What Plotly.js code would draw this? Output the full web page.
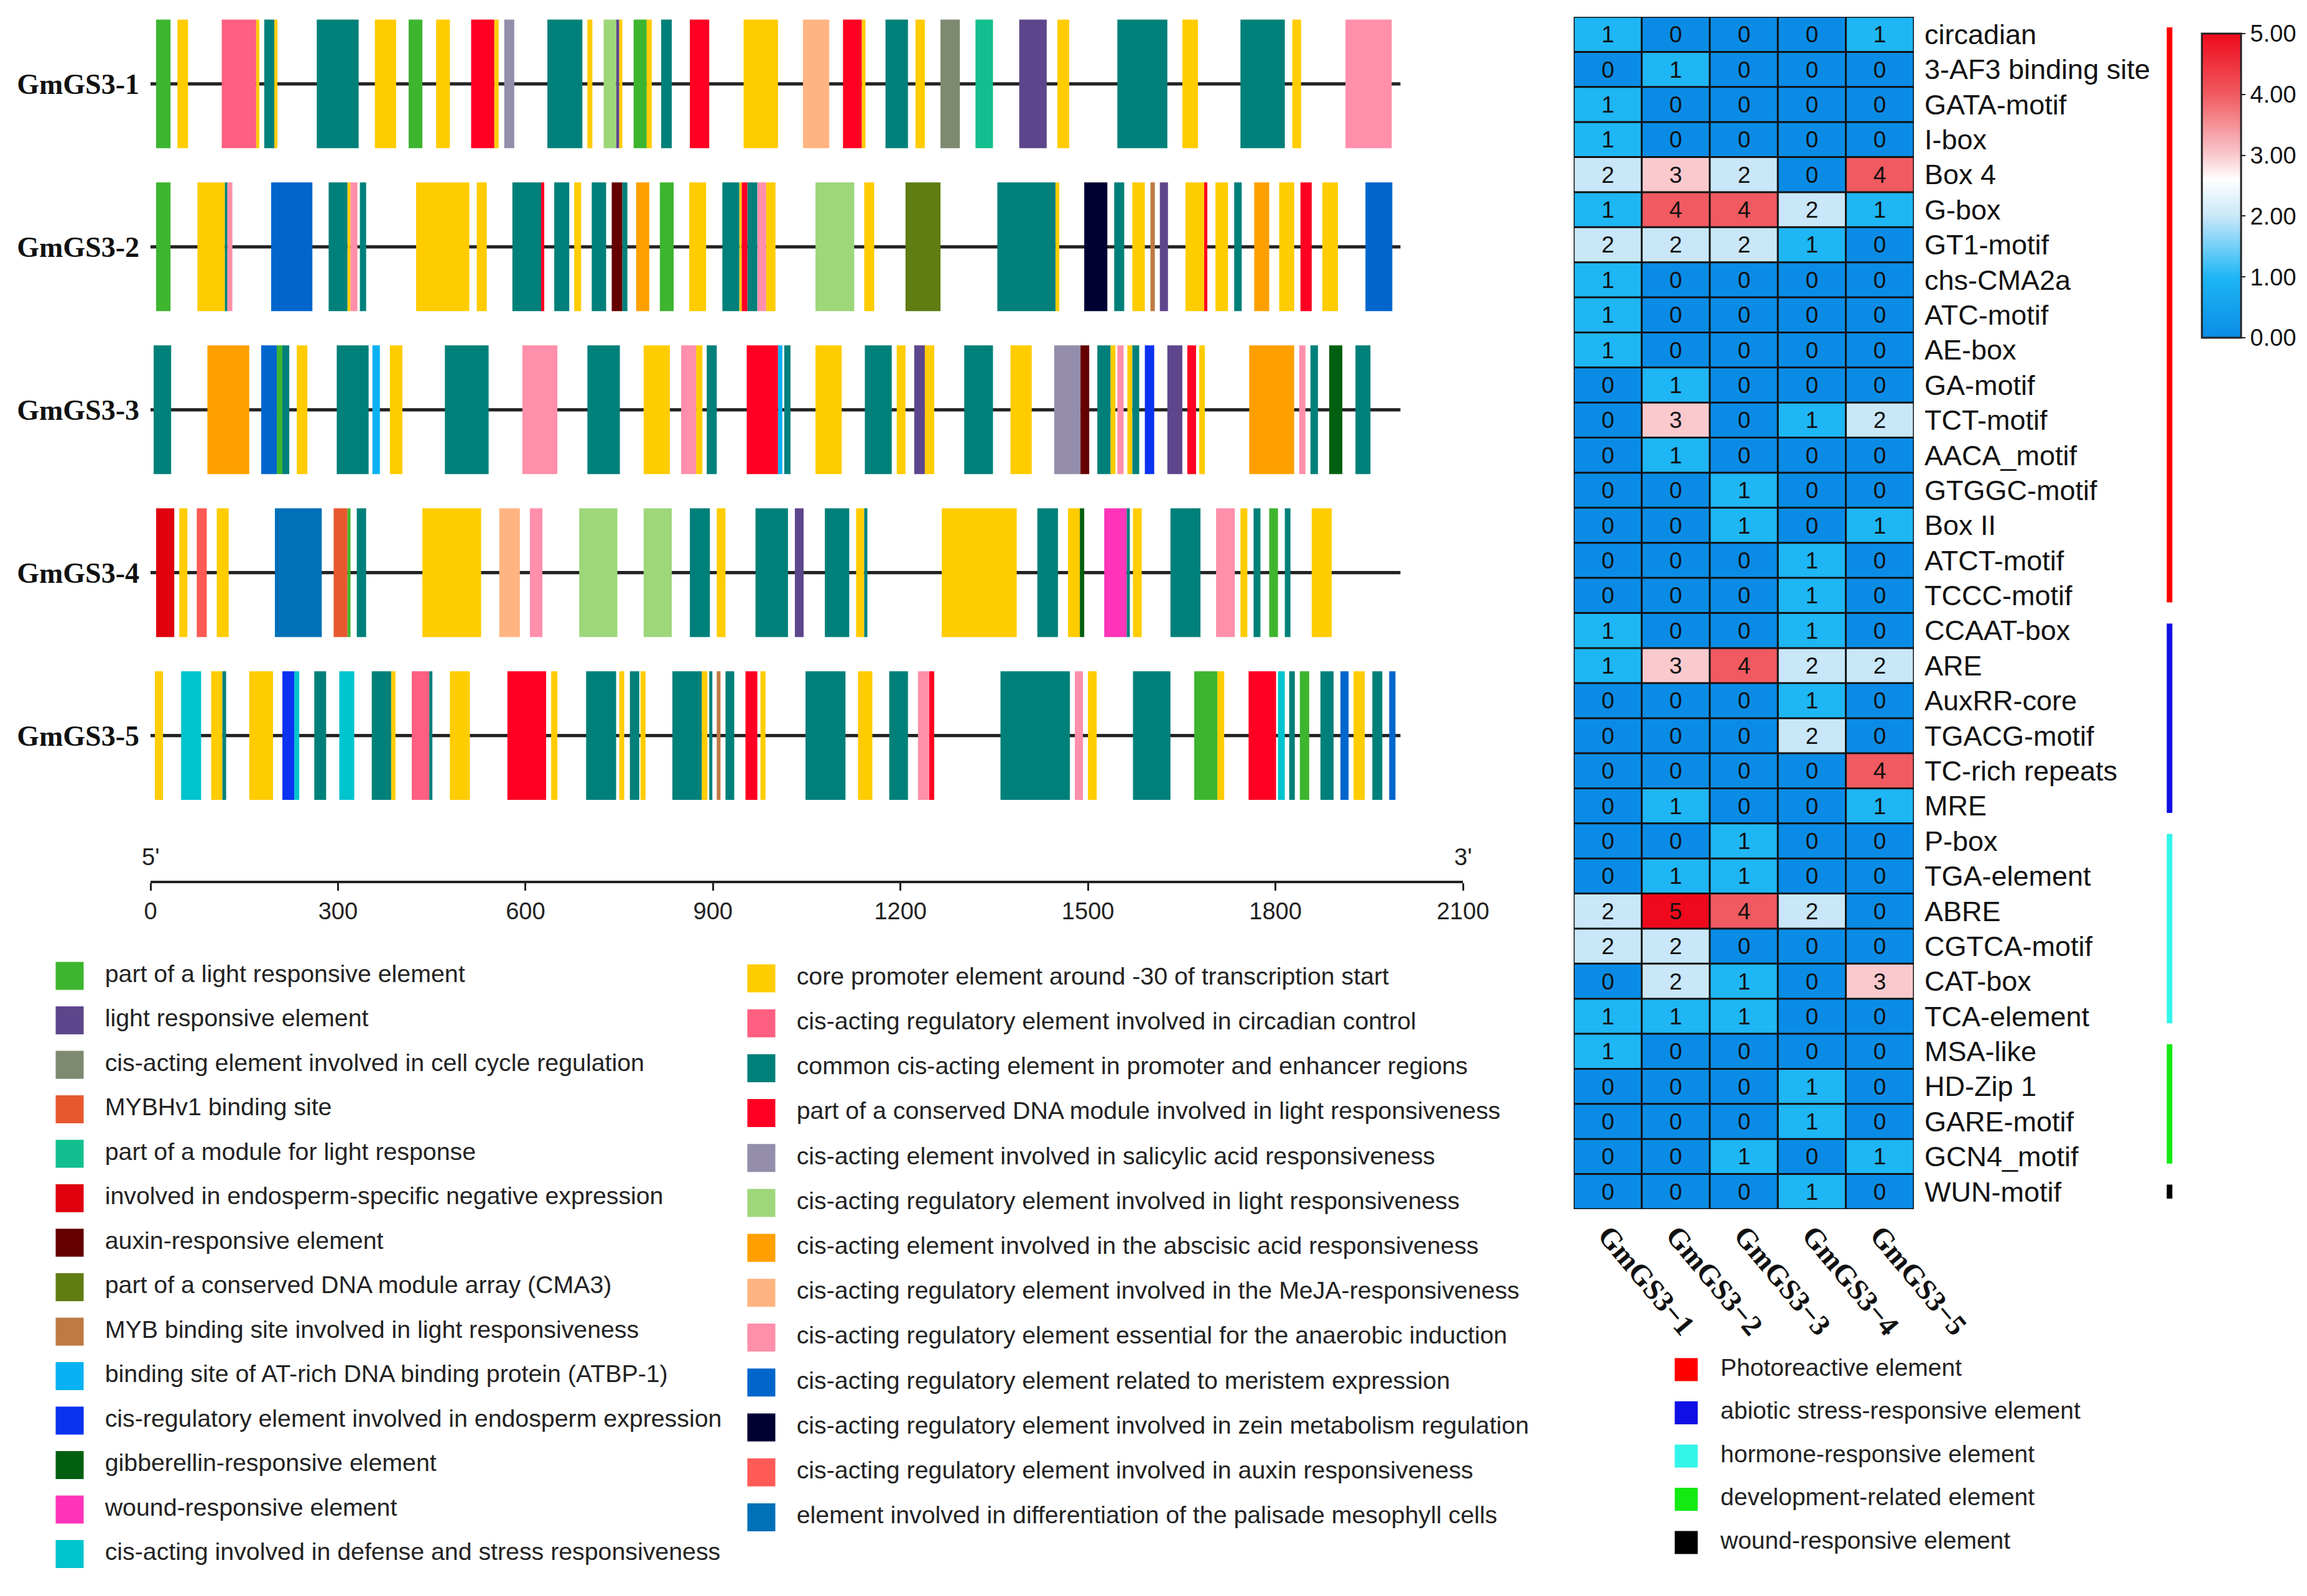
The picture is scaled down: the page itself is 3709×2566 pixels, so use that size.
<!DOCTYPE html>
<html>
<head>
<meta charset="utf-8">
<script src="https://cdn.plot.ly/plotly-3.0.1.min.js"></script>
<style>html,body{margin:0;padding:0;background:#fff;}</style>
</head>
<body>
<div id="chart" style="width:3709px;height:2566px;"></div>
<script>
// ---------------- DATA ----------------
const genes = ['GmGS3-1', 'GmGS3-2', 'GmGS3-3', 'GmGS3-4', 'GmGS3-5'];
const promoterLength = 2000;
const axisTicks = [0, 300, 600, 900, 1200, 1500, 1800, 2100];

// element types, in legend order (first 14 = left column, rest = right column)
const elementCodes = ['G','P','CC','MH','MD','EN','AX','OL','MB','AT','EO','GA','WD','DF',
                      'Y','CI','T','R','SA','LG','AB','MJ','AN','ME','ZE','AU','PA'];
const elementLabels = [
  'part of a light responsive element',
  'light responsive element',
  'cis-acting element involved in cell cycle regulation',
  'MYBHv1 binding site',
  'part of a module for light response',
  'involved in endosperm-specific negative expression',
  'auxin-responsive element',
  'part of a conserved DNA module array (CMA3)',
  'MYB binding site involved in light responsiveness',
  'binding site of AT-rich DNA binding protein (ATBP-1)',
  'cis-regulatory element involved in endosperm expression',
  'gibberellin-responsive element',
  'wound-responsive element',
  'cis-acting involved in defense and stress responsiveness',
  'core promoter element around -30 of transcription start',
  'cis-acting regulatory element involved in circadian control',
  'common cis-acting element in promoter and enhancer regions',
  'part of a conserved DNA module involved in light responsiveness',
  'cis-acting element involved in salicylic acid responsiveness',
  'cis-acting regulatory element involved in light responsiveness',
  'cis-acting element involved in the abscisic acid responsiveness',
  'cis-acting regulatory element involved in the MeJA-responsiveness',
  'cis-acting regulatory element essential for the anaerobic induction',
  'cis-acting regulatory element related to meristem expression',
  'cis-acting regulatory element involved in zein metabolism regulation',
  'cis-acting regulatory element involved in auxin responsiveness',
  'element involved in differentiation of the palisade mesophyll cells'
];
const elementColors = ['#3DB52E','#5E468C','#7D8A70','#E8582F','#12BF8E','#E0000E','#640000','#5F7D12','#BF7A42','#08B2F2','#0A32F0','#006010','#FF34B8','#00C4CE',
                       '#FFCC00','#FF5F80','#00807A','#FF0022','#948EAC','#9ED67A','#FFA000','#FFB482','#FF8FAA','#0066CC','#000033','#FF5A55','#0070B8'];

// [start bp, end bp, element code] for each promoter
const gene1 = [[9,32,'G'],[43,60,'Y'],[114,169,'CI'],[169,174,'Y'],[182,198,'T'],[198,203,'Y'],[266,333,'T'],[359,393,'Y'],[413,435,'G'],[457,479,'Y'],[513,550,'R'],[550,557,'Y'],[566,582,'SA'],[635,691,'T'],[699,707,'Y'],[725,745,'LG'],[745,750,'P'],[750,755,'Y'],[773,794,'G'],[794,802,'Y'],[817,834,'T'],[863,894,'R'],[949,1004,'Y'],[1044,1086,'MJ'],[1108,1138,'R'],[1138,1144,'Y'],[1176,1212,'T'],[1224,1239,'Y'],[1264,1295,'CC'],[1320,1348,'MD'],[1390,1434,'P'],[1451,1470,'Y'],[1547,1627,'T'],[1651,1676,'Y'],[1744,1815,'T'],[1827,1841,'Y'],[1912,1986,'AN']];
const gene2 = [[9,32,'G'],[75,119,'Y'],[119,123,'T'],[123,131,'AN'],[193,259,'ME'],[285,315,'T'],[315,320,'Y'],[320,331,'AN'],[335,345,'T'],[425,510,'Y'],[522,538,'Y'],[579,625,'T'],[625,630,'R'],[646,670,'T'],[678,689,'Y'],[706,729,'T'],[738,755,'AX'],[755,763,'T'],[777,798,'AB'],[815,837,'G'],[862,889,'Y'],[915,942,'T'],[942,946,'Y'],[946,955,'R'],[955,971,'T'],[971,985,'AN'],[985,1000,'Y'],[1064,1126,'LG'],[1142,1158,'Y'],[1208,1264,'OL'],[1355,1448,'T'],[1448,1454,'Y'],[1494,1531,'ZE'],[1542,1558,'T'],[1571,1591,'Y'],[1600,1607,'MB'],[1615,1628,'P'],[1656,1686,'Y'],[1686,1691,'R'],[1704,1724,'Y'],[1734,1746,'T'],[1766,1790,'AB'],[1806,1830,'Y'],[1840,1858,'R'],[1875,1900,'Y'],[1944,1987,'ME']];
const gene3 = [[5,33,'T'],[91,158,'AB'],[177,202,'ME'],[202,211,'G'],[211,222,'T'],[234,251,'Y'],[298,349,'T'],[355,367,'AT'],[383,403,'Y'],[471,541,'T'],[595,651,'AN'],[699,751,'T'],[789,831,'Y'],[849,873,'AN'],[873,883,'Y'],[890,906,'T'],[954,1004,'R'],[1004,1011,'AT'],[1014,1024,'T'],[1064,1106,'Y'],[1143,1186,'T'],[1194,1208,'Y'],[1222,1239,'P'],[1239,1254,'Y'],[1302,1348,'T'],[1376,1410,'Y'],[1446,1488,'SA'],[1488,1502,'AX'],[1515,1536,'T'],[1536,1544,'Y'],[1547,1557,'AN'],[1563,1571,'Y'],[1571,1582,'T'],[1591,1606,'EO'],[1627,1651,'P'],[1659,1673,'R'],[1678,1687,'Y'],[1758,1830,'AB'],[1838,1848,'AN'],[1856,1868,'T'],[1886,1907,'GA'],[1928,1952,'T']];
const gene4 = [[9,38,'EN'],[46,59,'Y'],[74,90,'AU'],[106,125,'Y'],[199,274,'PA'],[293,315,'MH'],[315,320,'G'],[330,345,'T'],[435,529,'Y'],[558,591,'MJ'],[607,627,'AN'],[686,747,'LG'],[789,834,'LG'],[863,895,'T'],[906,920,'Y'],[968,1020,'T'],[1031,1045,'P'],[1079,1118,'T'],[1129,1142,'Y'],[1142,1147,'T'],[1266,1386,'Y'],[1419,1452,'T'],[1468,1487,'Y'],[1487,1494,'GA'],[1526,1562,'WD'],[1562,1567,'T'],[1572,1586,'Y'],[1632,1680,'T'],[1705,1735,'AN'],[1744,1755,'Y'],[1765,1776,'T'],[1790,1804,'G'],[1815,1824,'T'],[1858,1890,'Y']];
const gene5 = [[7,20,'Y'],[49,81,'DF'],[97,115,'Y'],[115,121,'T'],[158,196,'Y'],[211,230,'EO'],[230,238,'DF'],[262,281,'T'],[302,326,'DF'],[354,385,'T'],[385,392,'Y'],[418,446,'CI'],[446,451,'T'],[479,511,'Y'],[571,633,'R'],[641,651,'Y'],[697,745,'T'],[750,758,'Y'],[767,782,'T'],[784,792,'Y'],[835,882,'T'],[882,891,'Y'],[894,899,'T'],[906,912,'MB'],[920,934,'T'],[952,971,'R'],[976,984,'Y'],[1048,1112,'T'],[1132,1155,'Y'],[1182,1212,'T'],[1228,1246,'AN'],[1246,1254,'R'],[1360,1471,'T'],[1479,1492,'AN'],[1500,1514,'Y'],[1572,1632,'T'],[1670,1707,'G'],[1707,1718,'Y'],[1757,1801,'R'],[1804,1815,'DF'],[1822,1831,'T'],[1839,1854,'G'],[1872,1893,'T'],[1904,1917,'ME'],[1925,1943,'Y'],[1955,1971,'T'],[1982,1992,'ME']];
const geneElements = [gene1, gene2, gene3, gene4, gene5];

// heatmap
const motifs = ['circadian','3-AF3 binding site','GATA-motif','I-box','Box 4','G-box','GT1-motif','chs-CMA2a','ATC-motif','AE-box','GA-motif','TCT-motif','AACA_motif','GTGGC-motif','Box II','ATCT-motif','TCCC-motif',
                'CCAAT-box','ARE','AuxRR-core','TGACG-motif','TC-rich repeats','MRE','P-box','TGA-element','ABRE','CGTCA-motif','CAT-box','TCA-element','MSA-like','HD-Zip 1','GARE-motif','GCN4_motif','WUN-motif'];
const motifCounts = [
  [1,0,0,0,1],[0,1,0,0,0],[1,0,0,0,0],[1,0,0,0,0],[2,3,2,0,4],[1,4,4,2,1],[2,2,2,1,0],[1,0,0,0,0],[1,0,0,0,0],[1,0,0,0,0],[0,1,0,0,0],[0,3,0,1,2],[0,1,0,0,0],[0,0,1,0,0],[0,0,1,0,1],[0,0,0,1,0],[0,0,0,1,0],
  [1,0,0,1,0],[1,3,4,2,2],[0,0,0,1,0],[0,0,0,2,0],[0,0,0,0,4],[0,1,0,0,1],[0,0,1,0,0],[0,1,1,0,0],[2,5,4,2,0],[2,2,0,0,0],[0,2,1,0,3],[1,1,1,0,0],[1,0,0,0,0],[0,0,0,1,0],[0,0,0,1,0],[0,0,1,0,1],[0,0,0,1,0]
];
const groupNames = ['Photoreactive element','abiotic stress-responsive element','hormone-responsive element','development-related element','wound-responsive element'];
const groupSizes = [17, 6, 6, 4, 1];
const groupColors = ['#FF0000','#1010E6','#33F5EA','#12EA12','#000000'];
const colorTicks = [0, 1, 2, 3, 4, 5];

// ---------------- LAYOUT HELPERS ----------------
const W = 3709, H = 2566;
const px = v => v / W;
const py = v => 1 - v / H;
const SANS = 'Liberation Sans, Arial, sans-serif';
const SERIF = 'Liberation Serif, Times New Roman, serif';

const traces = [];

// backbone lines
traces.push({
  type: 'bar', orientation: 'h', xaxis: 'x', yaxis: 'y',
  y: genes.map((g, i) => i), x: genes.map(() => promoterLength), base: genes.map(() => 0),
  width: 0.02, marker: {color: '#222', line: {width: 0}}, showlegend: false, hoverinfo: 'skip'
});

// element boxes, one trace per element type
elementCodes.forEach((code, k) => {
  const ys = [], xs = [], bs = [];
  geneElements.forEach((list, gi) => {
    list.forEach(e => { if (e[2] === code) { ys.push(gi); bs.push(e[0]); xs.push(e[1] - e[0]); } });
  });
  if (!ys.length) return;
  traces.push({
    type: 'bar', orientation: 'h', xaxis: 'x', yaxis: 'y',
    y: ys, x: xs, base: bs, width: 0.79, name: elementLabels[k],
    marker: {color: elementColors[k], line: {width: 0}}, showlegend: false
  });
});

// element legend (swatches + labels)
const nLeft = 14;
const ROW_UNIT = 71.8;
const legCol = elementCodes.map((c, i) => i < nLeft ? 0 : 1);
const legRowIdx = elementCodes.map((c, i) => i < nLeft ? i : i - nLeft);
// slight per-column spacing as in the original figure
const legRow = legRowIdx.map((r, i) => legCol[i] === 0 ? (r * 71.5 - 2) / ROW_UNIT : (r * 72.2 + 2) / ROW_UNIT);
traces.push({
  type: 'scatter', mode: 'markers', xaxis: 'x3', yaxis: 'y3', x: legCol, y: legRow,
  marker: {symbol: 'square', size: 45, color: elementColors, line: {width: 0}},
  showlegend: false, hoverinfo: 'skip', cliponaxis: false
});
traces.push({
  type: 'scatter', mode: 'text', xaxis: 'x3', yaxis: 'y3', x: legCol.map(c => c + 0.051), y: legRow,
  text: elementLabels, textposition: 'middle right',
  textfont: {family: SANS, size: 39.3, color: '#222'},
  showlegend: false, hoverinfo: 'skip', cliponaxis: false
});

// heatmap
traces.push({
  type: 'heatmap', xaxis: 'x2', yaxis: 'y2',
  x: genes, y: motifs, z: motifCounts, zmin: 0, zmax: 5,
  colorscale: [[0, '#0A8CE6'], [0.2, '#1EB6F4'], [0.4, '#C9E7F8'], [0.52, '#FFFFFF'], [0.6, '#F9C9CE'], [0.8, '#F05A60'], [1, '#EE0A1C']],
  texttemplate: '%{z}', textfont: {family: SANS, size: 37, color: '#111'},
  colorbar: {
    x: px(3540), xanchor: 'left', y: py(298.5), yanchor: 'middle',
    len: 489, lenmode: 'pixels', thickness: 63, thicknessmode: 'pixels',
    outlinewidth: 3, outlinecolor: '#222', ticks: 'outside', ticklen: 6, tickwidth: 2, tickcolor: '#222',
    tickvals: colorTicks, tickformat: '.2f', tickfont: {family: SANS, size: 38, color: '#111'},
    xpad: 0, ypad: 0
  },
  hoverinfo: 'x+y+z'
});

// group legend
traces.push({
  type: 'scatter', mode: 'markers', xaxis: 'x4', yaxis: 'y4',
  x: groupNames.map(() => 0), y: groupNames.map((g, i) => i),
  marker: {symbol: 'square', size: 37, color: groupColors, line: {width: 0}},
  showlegend: false, hoverinfo: 'skip', cliponaxis: false
});
traces.push({
  type: 'scatter', mode: 'text', xaxis: 'x4', yaxis: 'y4',
  x: groupNames.map(() => 0.55), y: groupNames.map((g, i) => i),
  text: groupNames, textposition: 'middle right',
  textfont: {family: SANS, size: 39, color: '#222'},
  showlegend: false, hoverinfo: 'skip', cliponaxis: false
});

// shapes: heatmap grid + group bars
const shapes = [];
const nR = motifs.length, nC = genes.length;
for (let c = 0; c <= nC; c++) {
  shapes.push({type: 'line', xref: 'x2', yref: 'y2', x0: c - 0.5, x1: c - 0.5, y0: -0.5, y1: nR - 0.5, line: {color: '#111', width: 3}, layer: 'above'});
}
for (let r = 0; r <= nR; r++) {
  shapes.push({type: 'line', xref: 'x2', yref: 'y2', x0: -0.5, x1: nC - 0.5, y0: r - 0.5, y1: r - 0.5, line: {color: '#111', width: 3}, layer: 'above'});
}
let startRow = 0;
groupSizes.forEach((n, i) => {
  const inset = 0.3;
  shapes.push({type: 'line', xref: 'paper', yref: 'y2', x0: px(3488), x1: px(3488),
    y0: startRow - 0.5 + inset, y1: startRow + n - 0.5 - inset, line: {color: groupColors[i], width: 9}});
  startRow += n;
});

const layout = {
  width: W, height: H,
  margin: {l: 0, r: 0, t: 0, b: 0, pad: 0},
  paper_bgcolor: '#fff', plot_bgcolor: 'rgba(0,0,0,0)',
  barmode: 'overlay', showlegend: false,
  font: {family: SANS, color: '#222'},
  xaxis: {
    domain: [px(242), px(2352)], range: [0, 2100], anchor: 'y',
    showline: true, linewidth: 4, linecolor: '#222', ticks: 'outside', ticklen: 12, tickwidth: 3, tickcolor: '#222',
    tickvals: axisTicks, tickfont: {family: SANS, size: 38, color: '#222'},
    showgrid: false, zeroline: false, fixedrange: true
  },
  yaxis: {
    domain: [py(1416), py(0)], range: [4.891, -0.515], anchor: 'x',
    tickvals: genes.map((g, i) => i), ticktext: genes,
    tickfont: {family: SERIF, size: 46, color: '#111', weight: 'bold'},
    ticklabelstandoff: 17,
    ticks: '', showline: false, showgrid: false, zeroline: false, fixedrange: true
  },
  xaxis2: {
    domain: [px(2530), px(3077)], range: [-0.5, 4.5], anchor: 'y2', type: 'category',
    tickangle: 50, tickvals: genes, ticktext: genes.map(g => g.replace('-', '\u2212')),
    tickfont: {family: SERIF, size: 47, color: '#111', weight: 'bold'},
    ticklabelstandoff: 4,
    ticks: '', showline: false, showgrid: false, zeroline: false
  },
  yaxis2: {
    domain: [py(1944), py(27)], range: [nR - 0.5, -0.5], anchor: 'x2', type: 'category', side: 'right',
    tickfont: {family: SANS, size: 45, color: '#111'},
    ticklabelstandoff: 16,
    ticks: '', showline: false, showgrid: false, zeroline: false
  },
  xaxis3: {domain: [px(112 - 0.1 * 1112), px(112 + 2.0 * 1112)], range: [-0.1, 2.0], anchor: 'y3', visible: false},
  yaxis3: {domain: [py(1571 + 13.5 * ROW_UNIT), py(1571 - 0.5 * ROW_UNIT)], range: [13.5, -0.5], anchor: 'x3', visible: false},
  xaxis4: {domain: [px(2611), px(2811)], range: [-1, 1], anchor: 'y4', visible: false},
  yaxis4: {domain: [py(2202 + 4.5 * 69.5), py(2202 - 0.5 * 69.5)], range: [4.5, -0.5], anchor: 'x4', visible: false},
  shapes: shapes,
  annotations: [
    {xref: 'x', yref: 'paper', x: 0, y: py(1378), text: "5'", showarrow: false, font: {family: SANS, size: 38, color: '#222'}, xanchor: 'center', yanchor: 'middle'},
    {xref: 'x', yref: 'paper', x: 2100, y: py(1378), text: "3'", showarrow: false, font: {family: SANS, size: 38, color: '#222'}, xanchor: 'center', yanchor: 'middle'}
  ]
};

Plotly.newPlot('chart', traces, layout, {displayModeBar: false, staticPlot: true});
</script>
</body>
</html>
